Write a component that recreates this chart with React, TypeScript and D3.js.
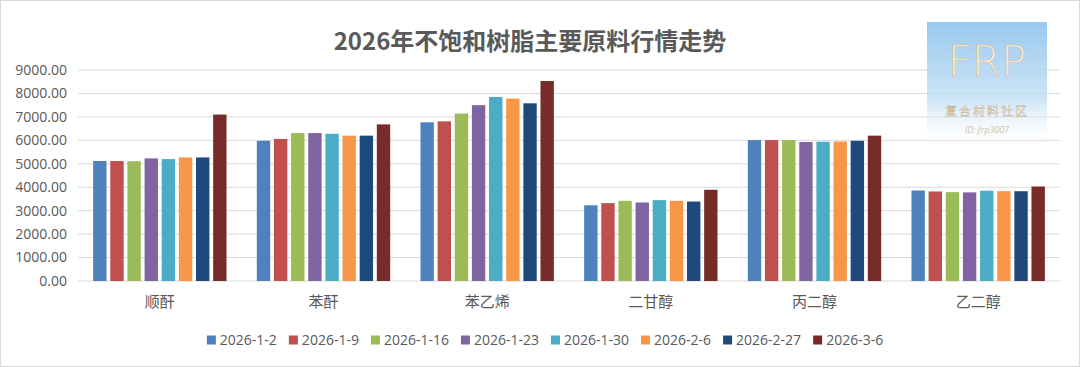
import { useMemo } from "react";
import * as d3 from "d3";

const WIDTH = 1080;
const HEIGHT = 367;
const MARGIN = { top: 70, right: 20, bottom: 86, left: 78 };

const TITLE = "2026年不饱和树脂主要原料行情走势";
const categories = ["顺酐", "苯酐", "苯乙烯", "二甘醇", "丙二醇", "乙二醇"];
const dates = ["2026-1-2", "2026-1-9", "2026-1-16", "2026-1-23", "2026-1-30", "2026-2-6", "2026-2-27", "2026-3-6"];
const colors = ["#4F81BD", "#C0504D", "#9BBB59", "#8064A2", "#4BACC6", "#F79646", "#1F497D", "#772C2A"];
const yTicks = [0, 1000, 2000, 3000, 4000, 5000, 6000, 7000, 8000, 9000];

// one array per week, in category order
const w0102 = [5120, 5980, 6770, 3230, 6010, 3860];
const w0109 = [5120, 6060, 6810, 3320, 6010, 3820];
const w0116 = [5110, 6310, 7140, 3420, 6010, 3790];
const w0123 = [5230, 6310, 7500, 3350, 5930, 3780];
const w0130 = [5200, 6280, 7850, 3450, 5940, 3850];
const w0206 = [5270, 6200, 7780, 3420, 5950, 3830];
const w0227 = [5270, 6200, 7580, 3390, 5980, 3830];
const w0306 = [7100, 6680, 8530, 3890, 6200, 4030];
const series = [w0102, w0109, w0116, w0123, w0130, w0206, w0227, w0306];

const NUM_FONT = "'Open Sans', 'Noto Sans', sans-serif";
const CJK_FONT = "'Noto Sans CJK SC', 'Noto Sans', sans-serif";
const TEXT_COLOR = "#595959";

const measure = (text: string, font: string) => {
  const ctx = document.createElement("canvas").getContext("2d");
  if (!ctx) return text.length * 7;
  ctx.font = font;
  return ctx.measureText(text).width;
};

const Watermark = () => (
  <g>
    <defs>
      <linearGradient id="wm" x1="0" y1="0" x2="0" y2="1">
        <stop offset="0%" stopColor="#8EC3EC" stopOpacity={0.9} />
        <stop offset="60%" stopColor="#BFDDF4" stopOpacity={0.8} />
        <stop offset="100%" stopColor="#FFFFFF" stopOpacity={0} />
      </linearGradient>
    </defs>
    <rect x={927} y={22} width={120} height={128} fill="url(#wm)" />
    <text x={987} y={76} textAnchor="middle" fontSize={42} fontWeight={300}
      fontFamily="'DejaVu Sans', sans-serif" fill="#FFF6E6" stroke="#C9B79A" strokeWidth={0.6}>FRP</text>
    <text x={987} y={116} textAnchor="middle" fontSize={12} fontFamily={CJK_FONT}
      fill="#F3E6C8" stroke="#B8A27A" strokeWidth={0.3} letterSpacing={2}>复合材料社区</text>
    <text x={987} y={133} textAnchor="middle" fontSize={9} fontStyle="italic"
      fontFamily={NUM_FONT} fill="#CFC3AA">ID: frp3007</text>
  </g>
);

export default function App() {
  const boundsWidth = WIDTH - MARGIN.left - MARGIN.right;
  const boundsHeight = HEIGHT - MARGIN.top - MARGIN.bottom;

  const yScale = useMemo(() => d3.scaleLinear().domain([0, 9000]).range([boundsHeight, 0]), [boundsHeight]);

  const x0 = useMemo(
    () => d3.scaleBand<string>().domain(categories).range([0, boundsWidth]).paddingInner(0.185).paddingOuter(0.0925),
    [boundsWidth]
  );
  const x1 = useMemo(
    () => d3.scaleBand<string>().domain(dates).range([0, x0.bandwidth()]).paddingInner(0.22).paddingOuter(0),
    [x0]
  );

  const legendItems = useMemo(() => {
    const box = 9;
    const gapBox = 4;
    const gapItem = 12;
    const widths = dates.map((d) => measure(d, `14px ${NUM_FONT}`));
    const total = d3.sum(widths) + dates.length * (box + gapBox) + (dates.length - 1) * gapItem;
    let x = 545 - total / 2;
    return dates.map((d, i) => {
      const item = { label: d, x, color: colors[i] };
      x += box + gapBox + widths[i] + gapItem;
      return item;
    });
  }, []);

  return (
    <svg width={WIDTH} height={HEIGHT} style={{ position: "absolute", left: 0, top: 0, background: "#fff" }}>
      <rect x={0.5} y={0.5} width={WIDTH - 1} height={HEIGHT - 1} fill="#fff" stroke="#D9D9D9" />
      <text x={530} y={50} textAnchor="middle" fontSize={24} fontWeight="bold" fontFamily={CJK_FONT} fill={TEXT_COLOR}>
        {TITLE}
      </text>

      <g transform={`translate(${MARGIN.left},${MARGIN.top})`}>
        {yTicks.map((t) => (
          <g key={t} transform={`translate(0,${yScale(t)})`}>
            <line x1={0} x2={boundsWidth} stroke="#D9D9D9" strokeWidth={1} />
            <text x={-11} dy="0.35em" textAnchor="end" fontSize={14} fontFamily={NUM_FONT} fill={TEXT_COLOR}>
              {t.toFixed(2)}
            </text>
          </g>
        ))}

        {categories.map((c, ci) => (
          <g key={c} transform={`translate(${x0(c)},0)`}>
            {series.map((values, si) => (
              <rect
                key={dates[si]}
                x={x1(dates[si])}
                y={yScale(values[ci])}
                width={x1.bandwidth()}
                height={boundsHeight - yScale(values[ci])}
                fill={colors[si]}
              />
            ))}
          </g>
        ))}

        {categories.map((c) => (
          <text key={c} x={(x0(c) ?? 0) + x0.bandwidth() / 2} y={boundsHeight + 26} textAnchor="middle"
            fontSize={15} fontFamily={CJK_FONT} fill={TEXT_COLOR}>
            {c}
          </text>
        ))}
      </g>

      <g transform="translate(0,340)">
        {legendItems.map((it) => (
          <g key={it.label} transform={`translate(${it.x},0)`}>
            <rect x={0} y={-4.5} width={9} height={9} fill={it.color} />
            <text x={13} dy="0.35em" fontSize={14} fontFamily={NUM_FONT} fill={TEXT_COLOR}>
              {it.label}
            </text>
          </g>
        ))}
      </g>

      <Watermark />
    </svg>
  );
}
